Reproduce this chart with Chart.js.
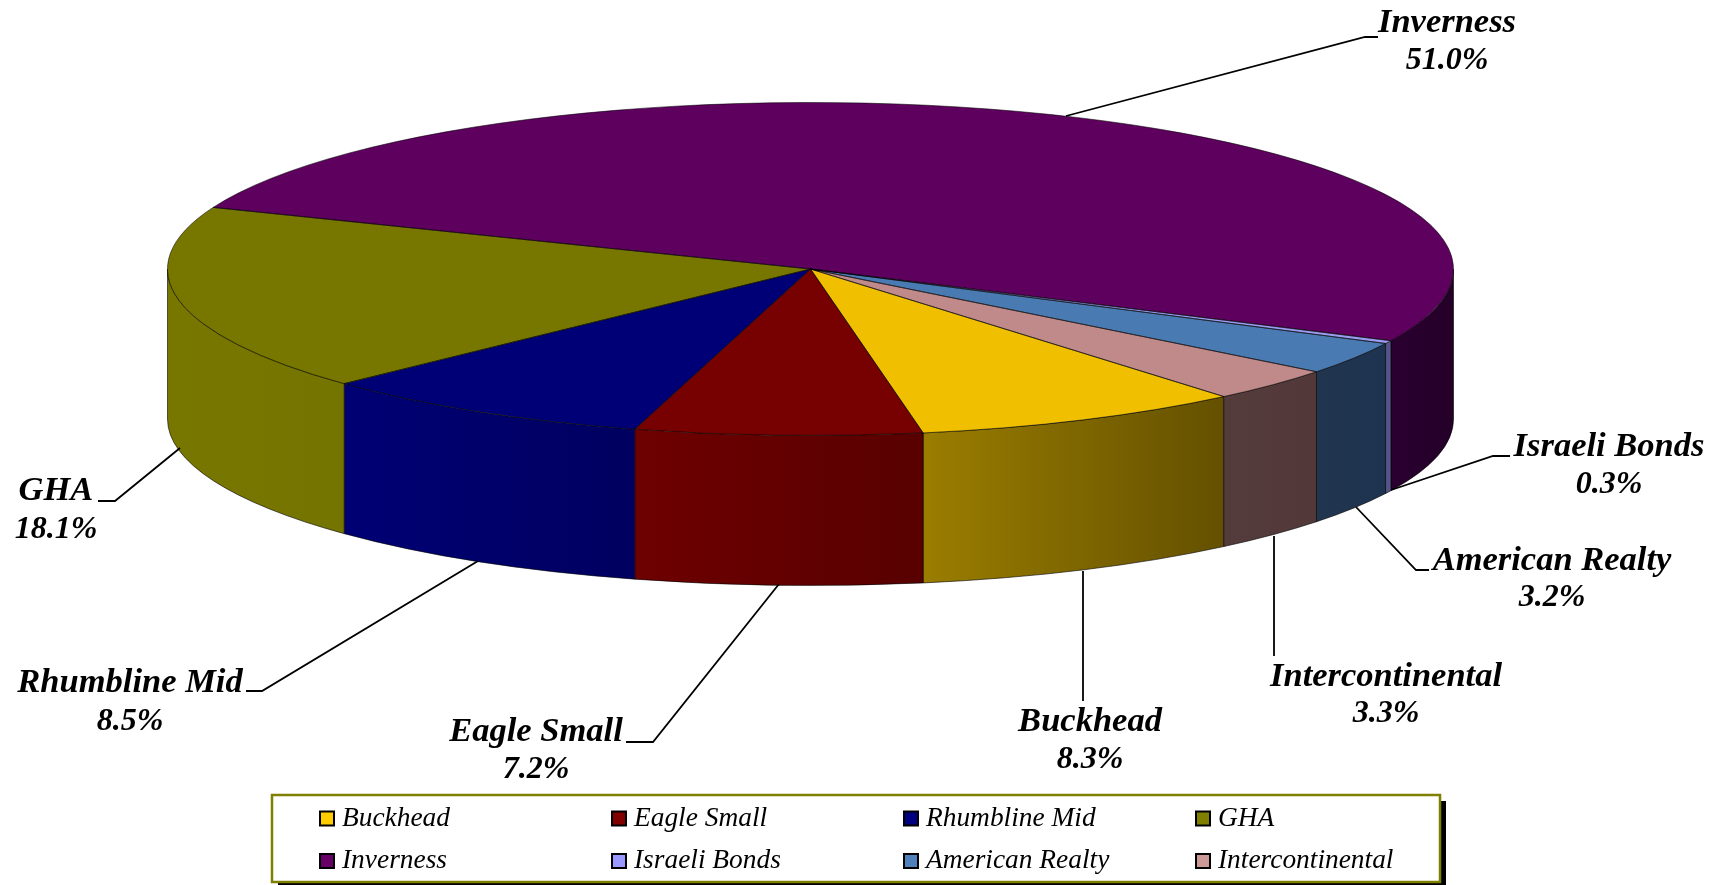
<!DOCTYPE html>
<html>
<head>
<meta charset="utf-8">
<title>Allocation</title>
<script src="https://cdn.jsdelivr.net/npm/chart.js@4"></script>
<style>
    html, body { margin: 0; padding: 0; background: #fff; }
    canvas { display: block; }
</style>
</head>
<body>
<canvas id="allocationChart" width="1715" height="885"></canvas>
<script>
// Chart values
const categories = ["Buckhead", "Eagle Small", "Rhumbline Mid", "GHA", "Inverness", "Israeli Bonds", "American Realty", "Intercontinental"];
const shares = [8.3, 7.2, 8.5, 18.1, 51.0, 0.3, 3.2, 3.3];

// Colours of the top face, the legend keys and the side wall (left, right)
const topColors = ["#efbf00", "#770000", "#000076", "#777700", "#5e005e", "#9a9af0", "#4a7ab2", "#c08a8a"];
const legendColors = ["#ffcc00", "#800000", "#000080", "#808000", "#660066", "#9999ff", "#4f81bd", "#cc9999"];
const wallColors = [
    ["#9a7d00", "#645000"], ["#6e0000", "#580000"], ["#000074", "#000060"], ["#777700", "#747400"],
    ["#2a0030", "#240028"], ["#55558c", "#55558c"], ["#21354f", "#1e3350"], ["#553c3c", "#523838"]
];

// Where the callouts sit: text centre, name and percent rows, leader line
const labelSpots = [
    { x: 1090, y: [722, 760], line: [[1083, 571], [1083, 701]] },
    { x: 536, y: [732, 770], line: [[779, 584], [653, 742], [626, 742]] },
    { x: 130, y: [683, 722], line: [[478, 561], [262, 691], [246, 691]] },
    { x: 56, y: [491, 530], line: [[180, 448], [115, 501], [98, 501]] },
    { x: 1447, y: [23, 61], line: [[1066, 116], [1365, 37], [1378, 37]] },
    { x: 1609, y: [447, 485], line: [[1391, 490], [1493, 456], [1510, 456]] },
    { x: 1552, y: [561, 598], line: [[1356, 507], [1416, 570], [1429, 570]] },
    { x: 1386, y: [677, 714], line: [[1274, 536], [1274, 656]] }
];

// Pie disc on the page
const disc = { x: 810.5, y: 269, rx: 643, ry: 166.5, depth: 150 };
const startRotation = 140;
const serif = '"Palatino Linotype", "Liberation Serif", serif';

// Squash the round pie the library draws into the tilted disc
function applyDiscTransform(ctx, arc) {
    ctx.translate(disc.x, disc.y);
    ctx.scale(disc.rx / arc.outerRadius, disc.ry / arc.outerRadius);
    ctx.translate(-arc.x, -arc.y);
}

// Side wall of one slice, only the part that faces the viewer
function drawWall(ctx, arc, colors) {
    const TWO_PI = Math.PI * 2;
    for (let k = -1; k <= 1; k++) {
        const a0 = Math.max(arc.startAngle + k * TWO_PI, 0);
        const a1 = Math.min(arc.endAngle + k * TWO_PI, Math.PI);
        if (a1 <= a0) continue;

        const xLeft = disc.x + disc.rx * Math.cos(a1);
        const xRight = disc.x + disc.rx * Math.cos(a0);
        const fill = ctx.createLinearGradient(xLeft, 0, xRight, 0);
        fill.addColorStop(0, colors[0]);
        fill.addColorStop(1, colors[1]);

        ctx.beginPath();
        ctx.ellipse(disc.x, disc.y, disc.rx, disc.ry, 0, a0, a1);
        ctx.ellipse(disc.x, disc.y + disc.depth, disc.rx, disc.ry, 0, a1, a0, true);
        ctx.closePath();
        ctx.fillStyle = fill;
        ctx.fill();
        ctx.strokeStyle = "rgba(0,0,0,0.6)";
        ctx.lineWidth = 1;
        ctx.stroke();
    }
}

const discPlugin = {
    id: "disc",
    beforeDatasetsDraw(chart) {
        const ctx = chart.ctx;
        const arcs = chart.getDatasetMeta(0).data;
        arcs.forEach((arc, i) => drawWall(ctx, arc, wallColors[i]));
        ctx.save();
        applyDiscTransform(ctx, arcs[0]);
    },
    afterDatasetsDraw(chart) {
        const ctx = chart.ctx;
        ctx.restore();

        // thin slice outlines, stroked unsquashed so the width stays even
        chart.getDatasetMeta(0).data.forEach(arc => {
            ctx.save();
            applyDiscTransform(ctx, arc);
            ctx.beginPath();
            ctx.moveTo(arc.x, arc.y);
            ctx.arc(arc.x, arc.y, arc.outerRadius, arc.startAngle, arc.endAngle);
            ctx.closePath();
            ctx.restore();
            ctx.strokeStyle = "rgba(0,0,0,0.55)";
            ctx.lineWidth = 1;
            ctx.stroke();
        });
    }
};

const calloutPlugin = {
    id: "callouts",
    afterDraw(chart) {
        const ctx = chart.ctx;
        ctx.save();
        ctx.textAlign = "center";
        ctx.textBaseline = "middle";
        ctx.fillStyle = "#000";
        ctx.strokeStyle = "#000";
        ctx.lineWidth = 1.8;

        labelSpots.forEach((spot, i) => {
            ctx.beginPath();
            spot.line.forEach(([x, y], n) => n ? ctx.lineTo(x, y) : ctx.moveTo(x, y));
            ctx.stroke();
            ctx.font = `italic bold 34.5px ${serif}`;
            ctx.fillText(categories[i], spot.x, spot.y[0]);
            ctx.font = `italic bold 32px ${serif}`;
            ctx.fillText(shares[i].toFixed(1) + "%", spot.x, spot.y[1]);
        });
        ctx.restore();
    }
};

const legendPlugin = {
    id: "legendBox",
    afterDraw(chart) {
        const ctx = chart.ctx;
        const box = { x: 272, y: 795, w: 1168, h: 87 };
        const columns = [320, 612, 904, 1196];
        const rows = [818.5, 861];

        ctx.save();
        ctx.fillStyle = "#000";
        ctx.fillRect(box.x + 6, box.y + 6, box.w, box.h);
        ctx.fillStyle = "#fff";
        ctx.fillRect(box.x, box.y, box.w, box.h);
        ctx.strokeStyle = "#808000";
        ctx.lineWidth = 2.5;
        ctx.strokeRect(box.x, box.y, box.w, box.h);

        ctx.font = `italic 27.4px ${serif}`;
        ctx.textAlign = "left";
        ctx.textBaseline = "middle";
        categories.forEach((name, i) => {
            const x = columns[i % 4];
            const y = rows[Math.floor(i / 4)];
            ctx.fillStyle = legendColors[i];
            ctx.fillRect(x, y - 7, 14, 14);
            ctx.strokeStyle = "#000";
            ctx.lineWidth = 2;
            ctx.strokeRect(x, y - 7, 14, 14);
            ctx.fillStyle = "#000";
            ctx.fillText(name, x + 22, y);
        });
        ctx.restore();
    }
};

new Chart(document.getElementById("allocationChart").getContext("2d"), {
    type: "pie",
    data: {
        labels: categories,
        datasets: [{
            data: shares,
            backgroundColor: topColors,
            borderWidth: 0,
            hoverOffset: 0,
            clip: false
        }]
    },
    options: {
        responsive: false,
        animation: false,
        rotation: startRotation,
        layout: { padding: 0 },
        events: [],
        plugins: {
            legend: { display: false },
            tooltip: { enabled: false }
        }
    },
    plugins: [discPlugin, calloutPlugin, legendPlugin]
});
</script>
</body>
</html>
